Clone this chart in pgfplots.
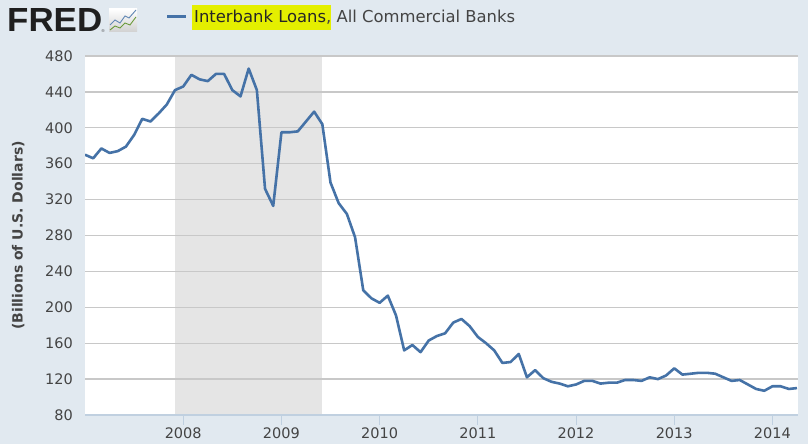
\documentclass[border=0pt]{standalone}
\usepackage{pgfplots}
\pgfplotsset{compat=1.18}
\usepackage{pgfplotstable}
\usepackage{fontspec}
\setmainfont{DejaVu Sans}
\newfontfamily\logofont{Liberation Sans}
\definecolor{bg}{HTML}{E1E9F0}
\definecolor{fredblue}{HTML}{4572A7}
\definecolor{gridc}{HTML}{C8C8C8}
\definecolor{axisc}{HTML}{C0D0E0}
\definecolor{rec}{HTML}{E5E5E5}
\definecolor{txt}{HTML}{444444}
\definecolor{hl}{HTML}{E4EF00}
\definecolor{fredgreen}{HTML}{6A9A3A}

\pgfplotstableread{
yr mo val
2007 1 370
2007 2 366
2007 3 377
2007 4 372
2007 5 374
2007 6 379
2007 7 392
2007 8 410
2007 9 407
2007 10 416
2007 11 426
2007 12 442
2008 1 446
2008 2 459
2008 3 454
2008 4 452
2008 5 460
2008 6 460
2008 7 442
2008 8 435
2008 9 466
2008 10 442
2008 11 332
2008 12 313
2009 1 395
2009 2 395
2009 3 396
2009 4 407
2009 5 418
2009 6 404
2009 7 339
2009 8 316
2009 9 304
2009 10 278
2009 11 219
2009 12 210
2010 1 205
2010 2 213
2010 3 191
2010 4 152
2010 5 158
2010 6 150
2010 7 163
2010 8 168
2010 9 171
2010 10 183
2010 11 187
2010 12 179
2011 1 167
2011 2 160
2011 3 152
2011 4 138
2011 5 139
2011 6 148
2011 7 122
2011 8 130
2011 9 121
2011 10 117
2011 11 115
2011 12 112
2012 1 114
2012 2 118
2012 3 118
2012 4 115
2012 5 116
2012 6 116
2012 7 119
2012 8 119
2012 9 118
2012 10 122
2012 11 120
2012 12 124
2013 1 132
2013 2 125
2013 3 126
2013 4 127
2013 5 127
2013 6 126
2013 7 122
2013 8 118
2013 9 119
2013 10 114
2013 11 109
2013 12 107
2014 1 112
2014 2 112
2014 3 109
2014 4 110
}\loans

\pagecolor{bg}

\begin{document}
\begin{tikzpicture}[x=1pt,y=1pt]
\path (0,0) rectangle (808,444);
\begin{axis}[
  at={(85pt,29pt)}, anchor=south west,
  width=713pt, height=359pt, scale only axis,
  set layers,
  xmin=2007, xmax=2014.26, ymin=80, ymax=480,
  enlargelimits=false,
  axis x line=bottom, axis y line=left,
  x axis line style={-, draw=axisc, line width=2pt},
  y axis line style={-, draw=none, opacity=0},
  every outer y axis line/.append style={draw=none, opacity=0},
  xtick={2008,2009,...,2014},
  ytick={80,120,...,480},
  ymajorgrids, grid style={gridc, line width=1.3pt},
  xtick align=outside,
  major tick length=10pt,
  xtick style={draw=axisc, line width=1pt},
  ytick style={draw=none},
  /pgf/number format/1000 sep={},
  /pgf/number format/assume math mode=true,
  tick label style={font=\fontsize{14.5}{16}\selectfont, text=txt},
  xticklabel style={inner sep=0pt, yshift=-3pt},
  yticklabel style={inner sep=0pt, xshift=-7pt},
  ylabel={(Billions of U.S. Dollars)},
  every axis y label/.style={at={(axis description cs:-0.0935,0.5)}, rotate=90, anchor=center, font=\bfseries\fontsize{14}{16}\selectfont, text=txt},
]
\addplot[fill=white, draw=none, on layer=axis background] coordinates {(2007,80) (2014.26,80) (2014.26,480) (2007,480)} -- cycle;
\addplot[fill=rec, draw=none, on layer=axis background] coordinates {(2007.917,80) (2009.417,80) (2009.417,480) (2007.917,480)} -- cycle;
\addplot[fredblue, line width=2.6pt, line join=round, mark=none] table[x expr=\thisrow{yr}+(\thisrow{mo}-1)/12, y=val] {\loans};
\end{axis}

% FRED logo
\node[anchor=south west, inner sep=0pt, text=black!88] at (7,412) {\resizebox{95pt}{23pt}{\logofont\bfseries FRED}};
\node[anchor=south west, inner sep=0pt, text=black!70] at (101,411) {\fontsize{4}{4}\selectfont\textregistered};
\shade[top color=white, bottom color=black!18] (109,412) rectangle (137,435);
\draw[fredblue!85, line width=0.9pt] (110,419) -- (115,424) -- (120,421) -- (125,428) -- (129,426) -- (136,434);
\draw[fredgreen, line width=0.9pt] (110,414) -- (115,418) -- (120,416) -- (125,421) -- (130,419) -- (136,427);

% legend
\draw[fredblue, line width=3pt] (167,427) -- (186,427);
\fill[hl] (192,414) rectangle (331,439);
\node[anchor=base west, inner sep=0pt, text=black!85] at (194,421) {\fontsize{16.4}{18}\selectfont Interbank Loans\textcolor{txt}{, All Commercial Banks}};
\end{tikzpicture}
\end{document}
